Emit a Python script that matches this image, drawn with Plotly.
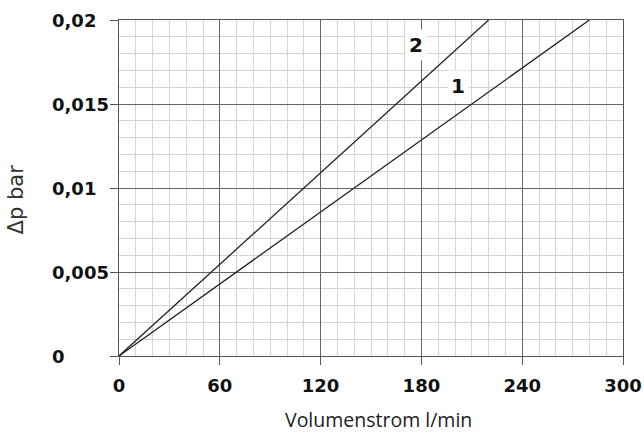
import plotly.graph_objects as go

# Data
curve_names = ["1", "2"]
curve_x = [[0, 280], [0, 220]]
curve_y = [[0, 0.02], [0, 0.02]]
label_x = [202, 177]
label_y = [0.0161, 0.0185]

x_ticks = [0, 60, 120, 180, 240, 300]
x_ticktext = ["0", "60", "120", "180", "240", "300"]
y_ticks = [0, 0.005, 0.01, 0.015, 0.02]
y_ticktext = ["0", "0,005", "0,01", "0,015", "0,02"]
x_title = "Volumenstrom l/min"
y_title = "Δp bar"

TICK_FONT = dict(family="DejaVu Sans", size=18, color="#111111", weight="bold")

fig = go.Figure()
for name, xs, ys in zip(curve_names, curve_x, curve_y):
    fig.add_trace(go.Scatter(x=xs, y=ys, mode="lines", name=name,
                             line=dict(color="#222222", width=1.3),
                             showlegend=False, hoverinfo="skip"))

for name, lx, ly in zip(curve_names, label_x, label_y):
    fig.add_annotation(x=lx, y=ly, text="<b>" + name + "</b>", showarrow=False,
                       font=dict(family="DejaVu Sans", size=20, color="#111111"),
                       bgcolor="white", borderpad=3)

# y tick labels, left-aligned as in the reference
for val, txt in zip(y_ticks, y_ticktext):
    fig.add_annotation(xref="paper", yref="y", x=-0.134, y=val, text=txt,
                       xanchor="left", yanchor="middle", showarrow=False,
                       font=TICK_FONT, borderpad=0)

# axis titles
fig.add_annotation(xref="paper", yref="paper", x=0.514, y=-0.19, text=x_title,
                   xanchor="center", yanchor="middle", showarrow=False, borderpad=0,
                   font=dict(family="Open Sans", size=19.5, color="#222222"))
fig.add_annotation(xref="paper", yref="paper", x=-0.205, y=0.465, text=y_title,
                   textangle=-90, xanchor="center", yanchor="middle", showarrow=False,
                   font=dict(family="DejaVu Sans", size=21, color="#333333"))

axis_common = dict(
    showline=True, linecolor="#555555", linewidth=1.3, mirror=True,
    showgrid=True, gridcolor="#666666", gridwidth=1,
    ticks="outside", ticklen=8, tickcolor="#555555", tickwidth=1.3,
    tickfont=TICK_FONT,
    zeroline=False, automargin=False,
)

fig.update_xaxes(range=[0, 300], tickvals=x_ticks, ticktext=x_ticktext,
                 ticklabelstandoff=5,
                 minor=dict(dtick=10, tick0=0, showgrid=True, gridcolor="#d4d4d4", gridwidth=1, ticks=""),
                 **axis_common)
fig.update_yaxes(range=[0, 0.02], tickvals=y_ticks, ticktext=y_ticktext,
                 showticklabels=False,
                 minor=dict(dtick=0.001, tick0=0, showgrid=True, gridcolor="#d4d4d4", gridwidth=1, ticks=""),
                 **axis_common)

fig.update_layout(
    width=644, height=434,
    margin=dict(l=119, r=21, t=20, b=78, autoexpand=False),
    plot_bgcolor="white", paper_bgcolor="white",
)

fig.write_html("out.html", config={"displayModeBar": False},
               post_script="document.body.style.margin='0';document.body.style.overflow='hidden';")
